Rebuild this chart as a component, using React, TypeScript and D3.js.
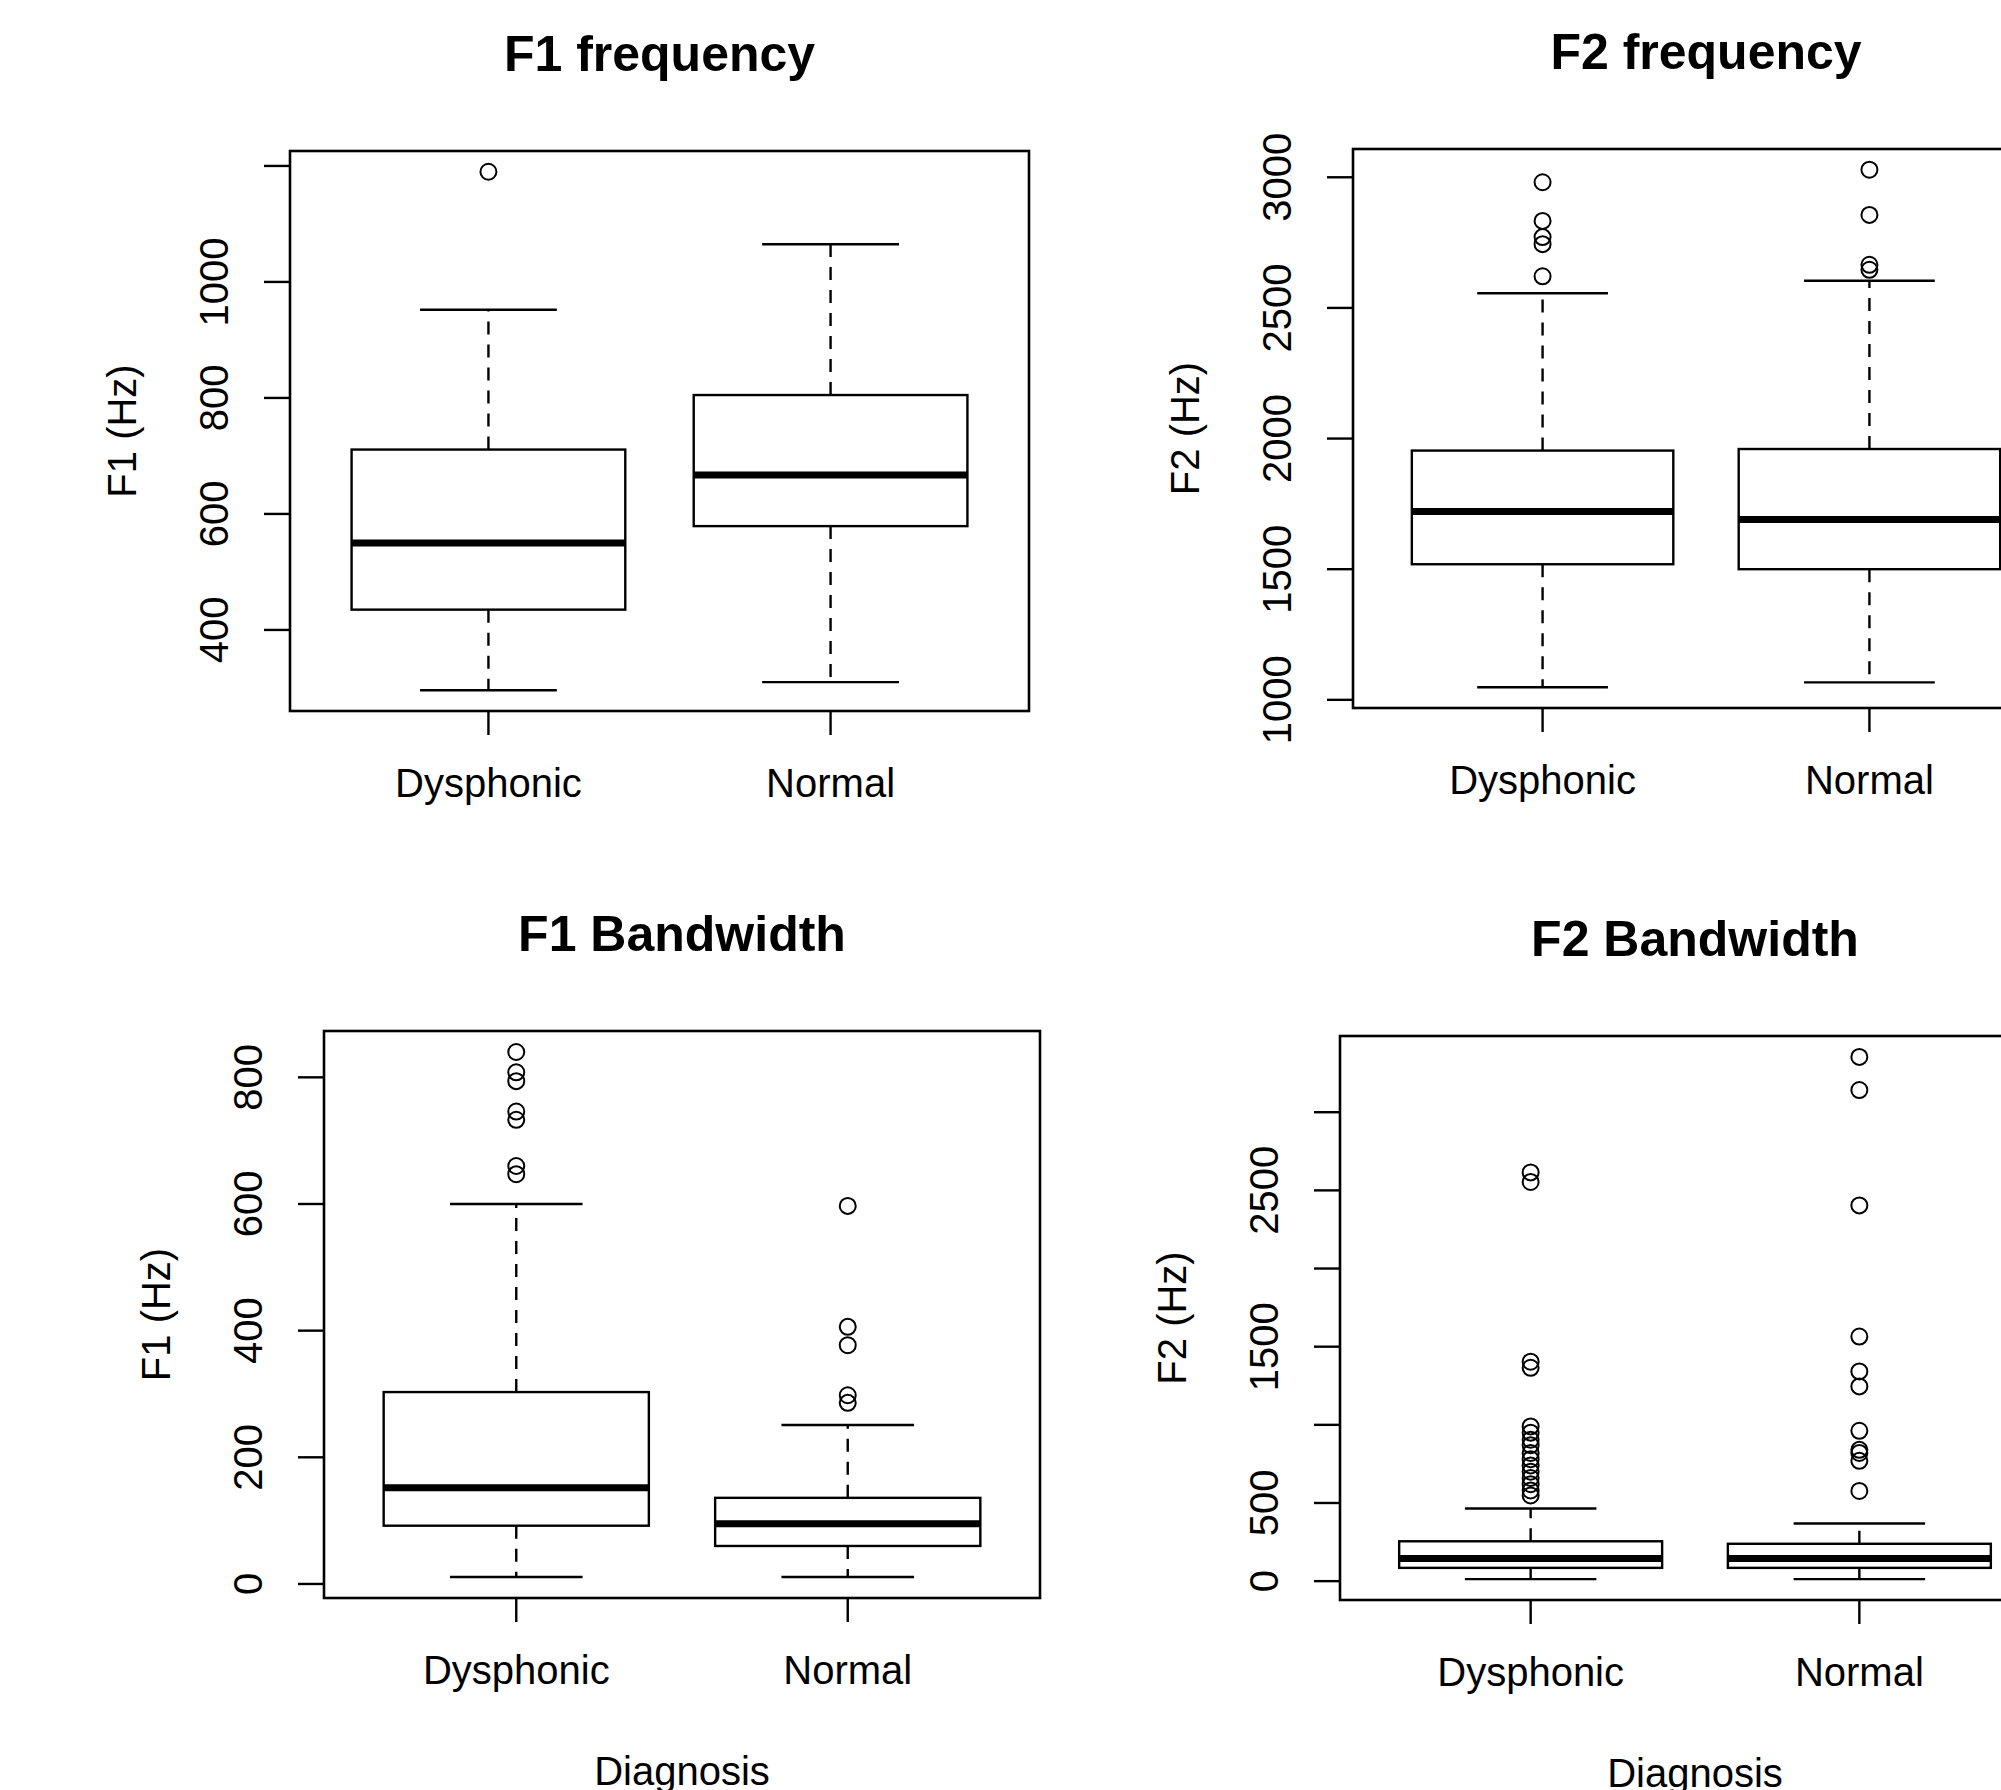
import React from "react";
import * as d3 from "d3";

const categories = ["Dysphonic", "Normal"];

// [lower whisker, Q1, median, Q3, upper whisker] per category
const f1FreqStats = [
  [296, 435, 550, 711, 952],
  [310, 579, 667, 805, 1065],
];
const f1FreqOutliers = [[1190], []];

const f2FreqStats = [
  [1048, 1519, 1721, 1954, 2556],
  [1067, 1500, 1690, 1960, 2604],
];
const f2FreqOutliers = [
  [2981, 2833, 2771, 2744, 2621],
  [3029, 2856, 2665, 2646],
];

const f1BwStats = [
  [11, 92, 152, 303, 600],
  [11, 60, 95, 136, 251],
];
const f1BwOutliers = [
  [840, 808, 794, 746, 733, 660, 647],
  [597, 406, 377, 298, 286],
];

const f2BwStats = [
  [13, 85, 145, 255, 465],
  [13, 85, 145, 239, 369],
];
const f2BwOutliers = [
  [2615, 2554, 1404, 1365, 990, 950, 905, 870, 820, 780, 740, 700, 660, 620, 580, 548],
  [3354, 3142, 2404, 1565, 1342, 1246, 962, 840, 820, 770, 577],
];

const f1FreqTicks = [400, 600, 800, 1000, 1200];
const f1FreqTickLabels = ["400", "600", "800", "1000", ""];
const f2FreqTicks = [1000, 1500, 2000, 2500, 3000];
const f2FreqTickLabels = ["1000", "1500", "2000", "2500", "3000"];
const f1BwTicks = [0, 200, 400, 600, 800];
const f1BwTickLabels = ["0", "200", "400", "600", "800"];
const f2BwTicks = [0, 500, 1000, 1500, 2000, 2500, 3000];
const f2BwTickLabels = ["0", "500", "", "1500", "", "2500", ""];

const FONT = "'Liberation Sans', Arial, Helvetica, sans-serif";

type PanelProps = {
  title: string;
  ylab: string;
  stats: number[][];
  outliers: number[][];
  ticks: number[];
  tickLabels: string[];
  rect: { x: number; y: number; w: number; h: number };
  xlab?: string;
};

function Panel({ title, ylab, stats, outliers, ticks, tickLabels, rect, xlab }: PanelProps) {
  const all = [...stats.flat(), ...outliers.flat()];
  const [mn, mx] = d3.extent(all) as [number, number];
  const pad = (mx - mn) * 0.04;
  const y = d3.scaleLinear().domain([mn - pad, mx + pad]).range([rect.y + rect.h, rect.y]);
  const x = d3.scaleLinear().domain([0.42, 2.58]).range([rect.x, rect.x + rect.w]);
  const bottom = rect.y + rect.h;
  const sw = 2.4;
  return (
    <g>
      <text x={rect.x + rect.w / 2} y={rect.y - 97} textAnchor="middle" dominantBaseline="central"
        fontFamily={FONT} fontWeight="bold" fontSize={50} fill="#000">{title}</text>
      {/* y axis ticks */}
      {ticks.map((t, i) => (
        <g key={"t" + i}>
          <line x1={rect.x - 26} x2={rect.x} y1={y(t)} y2={y(t)} stroke="#000" strokeWidth={sw} />
          {tickLabels[i] ? (
            <text transform={`translate(${rect.x - 76},${y(t)}) rotate(-90)`} textAnchor="middle"
              dominantBaseline="central" fontFamily={FONT} fontSize={40} fill="#000">{tickLabels[i]}</text>
          ) : null}
        </g>
      ))}
      <text transform={`translate(${rect.x - 168},${rect.y + rect.h / 2}) rotate(-90)`} textAnchor="middle"
        dominantBaseline="central" fontFamily={FONT} fontSize={40} fill="#000">{ylab}</text>
      {/* x axis */}
      {categories.map((c, i) => (
        <g key={"x" + i}>
          <line x1={x(i + 1)} x2={x(i + 1)} y1={bottom} y2={bottom + 24} stroke="#000" strokeWidth={sw} />
          <text x={x(i + 1)} y={bottom + 72} textAnchor="middle" dominantBaseline="central"
            fontFamily={FONT} fontSize={40} fill="#000">{c}</text>
        </g>
      ))}
      {xlab ? (
        <text x={rect.x + rect.w / 2} y={bottom + 173} textAnchor="middle" dominantBaseline="central"
          fontFamily={FONT} fontSize={40} fill="#000">{xlab}</text>
      ) : null}
      {/* boxes */}
      {stats.map((s, i) => {
        const cx = x(i + 1);
        const bl = x(i + 1 - 0.4);
        const br = x(i + 1 + 0.4);
        const cl = x(i + 1 - 0.2);
        const cr = x(i + 1 + 0.2);
        return (
          <g key={"b" + i}>
            <line x1={cx} x2={cx} y1={y(s[3])} y2={y(s[4])} stroke="#000" strokeWidth={sw} strokeDasharray="13 10" />
            <line x1={cx} x2={cx} y1={y(s[1])} y2={y(s[0])} stroke="#000" strokeWidth={sw} strokeDasharray="13 10" />
            <line x1={cl} x2={cr} y1={y(s[4])} y2={y(s[4])} stroke="#000" strokeWidth={sw} />
            <line x1={cl} x2={cr} y1={y(s[0])} y2={y(s[0])} stroke="#000" strokeWidth={sw} />
            <rect x={bl} y={y(s[3])} width={br - bl} height={y(s[1]) - y(s[3])} fill="#fff" stroke="#000" strokeWidth={sw} />
            <line x1={bl} x2={br} y1={y(s[2])} y2={y(s[2])} stroke="#000" strokeWidth={7} />
            {outliers[i].map((o, j) => (
              <circle key={j} cx={cx} cy={y(o)} r={8} fill="none" stroke="#000" strokeWidth={2} />
            ))}
          </g>
        );
      })}
      <rect x={rect.x} y={rect.y} width={rect.w} height={rect.h} fill="none" stroke="#000" strokeWidth={2.6} />
    </g>
  );
}

export default function App() {
  return (
    <svg width={2001} height={1790} style={{ position: "absolute", left: 0, top: 0, background: "#fff" }}>
      <rect x={0} y={0} width={2001} height={1790} fill="#fff" />
      <Panel title="F1 frequency" ylab="F1 (Hz)" stats={f1FreqStats} outliers={f1FreqOutliers}
        ticks={f1FreqTicks} tickLabels={f1FreqTickLabels} rect={{ x: 290, y: 151, w: 739, h: 560 }} />
      <Panel title="F2 frequency" ylab="F2 (Hz)" stats={f2FreqStats} outliers={f2FreqOutliers}
        ticks={f2FreqTicks} tickLabels={f2FreqTickLabels} rect={{ x: 1353, y: 149, w: 706, h: 559 }} />
      <Panel title="F1 Bandwidth" ylab="F1 (Hz)" stats={f1BwStats} outliers={f1BwOutliers}
        ticks={f1BwTicks} tickLabels={f1BwTickLabels} rect={{ x: 324, y: 1031, w: 716, h: 567 }} xlab="Diagnosis" />
      <Panel title="F2 Bandwidth" ylab="F2 (Hz)" stats={f2BwStats} outliers={f2BwOutliers}
        ticks={f2BwTicks} tickLabels={f2BwTickLabels} rect={{ x: 1340, y: 1036, w: 710, h: 564 }} xlab="Diagnosis" />
    </svg>
  );
}
